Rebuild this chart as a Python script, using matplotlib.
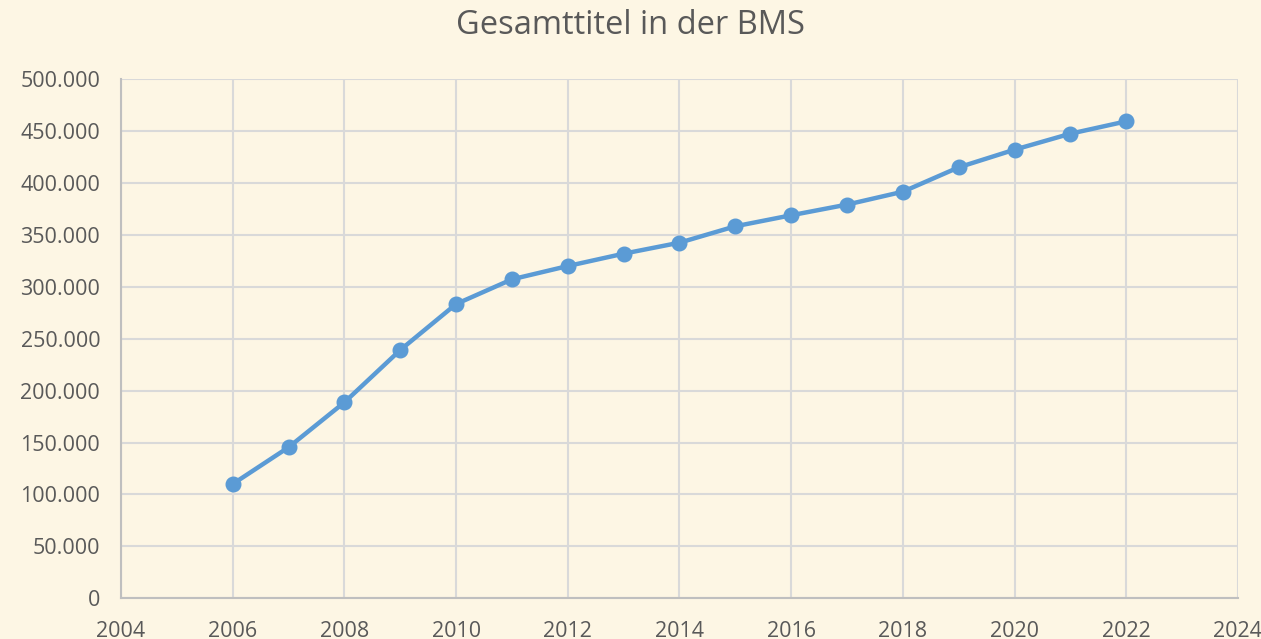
import matplotlib.pyplot as plt
from matplotlib.ticker import FuncFormatter

# Gesamttitel je Jahr
years = [2006, 2007, 2008, 2009, 2010, 2011, 2012, 2013, 2014,
         2015, 2016, 2017, 2018, 2019, 2020, 2021, 2022]
titles = [110100, 145500, 188800, 239200, 283500, 307300, 320100, 332000, 342600,
          358400, 369000, 379300, 391700, 415200, 432200, 447600, 459500]

x_ticks = list(range(2004, 2025, 2))
y_ticks = list(range(0, 500001, 50000))

bg = "#FDF6E4"
txt = "#595959"

plt.rcParams['font.family'] = ['Open Sans', 'DejaVu Sans']

fig = plt.figure(figsize=(12.61, 6.39), dpi=100, facecolor=bg)
ax = fig.add_axes([0.0960, 0.0637, 0.8857, 0.8122], facecolor=bg)

ax.plot(years, titles, color="#5B9BD5", linewidth=3.2, marker="o",
        markersize=10.5, zorder=3, clip_on=False)

ax.set_xlim(2004, 2024)
ax.set_ylim(0, 500000)
ax.set_xticks(x_ticks)
ax.set_yticks(y_ticks)
ax.yaxis.set_major_formatter(FuncFormatter(lambda v, p: "{:,.0f}".format(v).replace(",", ".")))

ax.grid(True, color="#D9D9D9", linewidth=1.5)
ax.set_axisbelow(True)
for s in ["top", "right"]:
    ax.spines[s].set_visible(False)
for s in ["left", "bottom"]:
    ax.spines[s].set_color("#BFBFBF")
    ax.spines[s].set_linewidth(1.5)
ax.tick_params(length=0, labelsize=15.5, labelcolor=txt)
ax.tick_params(axis="y", pad=15)
ax.tick_params(axis="x", pad=16)

fig.text(0.5, 0.960, "Gesamttitel in der BMS", ha="center", va="center",
         fontsize=23.5, color=txt)

fig.savefig("out.png", dpi=100, facecolor=bg)
